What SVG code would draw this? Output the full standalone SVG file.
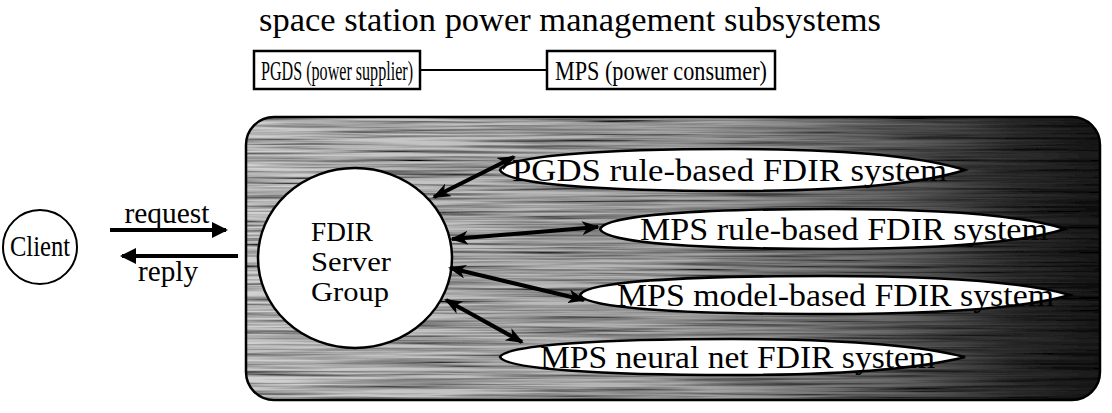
<svg xmlns="http://www.w3.org/2000/svg" width="1112" height="413" viewBox="0 0 1112 413">
<defs>
<style>
text{font-family:"Liberation Serif","Times New Roman",serif;fill:#000}
.t{font-size:30px}
.e{font-size:32px}
.b{font-size:27px}
.f{font-size:28px}
.box{fill:#fff;stroke:#000;stroke-width:2.5}
.ell{fill:#fff;stroke:#000;stroke-width:2.5}
.con{stroke:#000;stroke-width:4;fill:none}
.thin{stroke:#000;stroke-width:2;fill:none}
</style>
<linearGradient id="bg" x1="0" y1="0" x2="1" y2="0">
<stop offset="0" stop-color="#d2d2d2"/>
<stop offset="0.5" stop-color="#b0b0b0"/>
<stop offset="0.75" stop-color="#6a6a6a"/>
<stop offset="0.9" stop-color="#303030"/>
<stop offset="1" stop-color="#1a1a1a"/>
</linearGradient>
<filter id="streaks" x="0" y="0" width="100%" height="100%">
<feTurbulence type="fractalNoise" baseFrequency="0.006 0.35" numOctaves="3" seed="7" result="n"/>
<feColorMatrix in="n" type="matrix" values="1.9 0 0 0 -0.3  1.9 0 0 0 -0.3  1.9 0 0 0 -0.3  0 0 0 0 1" result="g"/>
<feBlend in="g" in2="SourceGraphic" mode="multiply" result="b"/>
<feComposite in="b" in2="SourceGraphic" operator="in"/>
</filter>
<marker id="ah" viewBox="0 0 18 14" refX="16" refY="7" markerWidth="18" markerHeight="14" markerUnits="userSpaceOnUse" orient="auto-start-reverse">
<path d="M0,0 L18,7 L0,14 L5,7 Z" fill="#000"/>
</marker>
<marker id="ah2" viewBox="0 0 16 16" refX="14" refY="8" markerWidth="16" markerHeight="16" markerUnits="userSpaceOnUse" orient="auto">
<path d="M0,0 L16,8 L0,16 Z" fill="#000"/>
</marker>
</defs>
<rect width="1112" height="413" fill="#fff"/>

<g id="title"><text x="570" y="31" text-anchor="middle" font-size="34" textLength="622" lengthAdjust="spacingAndGlyphs">space station power management subsystems</text></g>

<g id="pgds">
<rect class="box" x="254" y="51" width="166" height="38"/>
<text class="b" x="337" y="80" text-anchor="middle" textLength="152" lengthAdjust="spacingAndGlyphs">PGDS (power supplier)</text>
</g>
<g id="mps">
<rect class="box" x="547" y="51" width="228" height="38"/>
<text class="b" x="661" y="80" text-anchor="middle" textLength="212" lengthAdjust="spacingAndGlyphs">MPS (power consumer)</text>
</g>

<g id="panel">
<rect x="246" y="117" width="854" height="283" rx="28" fill="url(#bg)" filter="url(#streaks)"/>
<rect x="246" y="117" width="854" height="283" rx="28" fill="none" stroke="#000" stroke-width="2.5"/>
</g>

<g id="client">
<circle cx="40" cy="247" r="37" fill="#fff" stroke="#000" stroke-width="2"/>
<text class="t" x="40" y="256" text-anchor="middle" textLength="60" lengthAdjust="spacingAndGlyphs">Client</text>
</g>

<g id="fdir">
<ellipse cx="355" cy="258" rx="97" ry="90" fill="#fff" stroke="#000" stroke-width="2.5"/>
<text class="f" x="311" y="241" textLength="62" lengthAdjust="spacingAndGlyphs">FDIR</text>
<text class="f" x="311" y="271" textLength="80" lengthAdjust="spacingAndGlyphs">Server</text>
<text class="f" x="311" y="301" textLength="78" lengthAdjust="spacingAndGlyphs">Group</text>
</g>

<g id="e1">
<path class="ell" d="M500,170 C506,156 600,149 732,149 C860,149 930,159 965,170 C930,181 860,191 732,191 C600,191 506,184 500,170 Z"/>
<text class="e" x="512" y="181" textLength="435" lengthAdjust="spacingAndGlyphs">PGDS rule-based FDIR system</text>
</g>
<g id="e2">
<path class="ell" d="M600,229 C606,215 700,209 832,209 C960,209 1030,218 1065,229 C1030,240 960,249 832,249 C700,249 606,243 600,229 Z"/>
<text class="e" x="640" y="240" textLength="408" lengthAdjust="spacingAndGlyphs">MPS rule-based FDIR system</text>
</g>
<g id="e3">
<path class="ell" d="M580,295 C586,282 680,276 825,276 C965,276 1035,285 1070,295 C1035,305 965,314 825,314 C680,314 586,308 580,295 Z"/>
<text class="e" x="617" y="306" textLength="437" lengthAdjust="spacingAndGlyphs">MPS model-based FDIR system</text>
</g>
<g id="e4">
<path class="ell" d="M500,357 C506,345 600,339 732,339 C860,339 930,348 965,357 C930,366 860,375 732,375 C600,375 506,369 500,357 Z"/>
<text class="e" x="540" y="368" textLength="395" lengthAdjust="spacingAndGlyphs">MPS neural net FDIR system</text>
</g>

<g id="connectors">
<line class="thin" x1="420" y1="70" x2="547" y2="70"/>
<line class="con" x1="110" y1="230" x2="226" y2="230" marker-end="url(#ah2)"/>
<line class="con" x1="238" y1="256" x2="122" y2="256" marker-end="url(#ah2)"/>
<line class="con" x1="434" y1="197" x2="514" y2="157" marker-start="url(#ah)" marker-end="url(#ah)"/>
<line class="con" x1="452" y1="239" x2="598" y2="227" marker-start="url(#ah)" marker-end="url(#ah)"/>
<line class="con" x1="450" y1="268" x2="584" y2="300" marker-start="url(#ah)" marker-end="url(#ah)"/>
<line class="con" x1="446" y1="300" x2="522" y2="342" marker-start="url(#ah)" marker-end="url(#ah)"/>
</g>

<g id="labels">
<text class="t" x="167" y="223" text-anchor="middle" textLength="85" lengthAdjust="spacingAndGlyphs">request</text>
<text class="t" x="168" y="281" text-anchor="middle" textLength="60" lengthAdjust="spacingAndGlyphs">reply</text>
</g>
</svg>
